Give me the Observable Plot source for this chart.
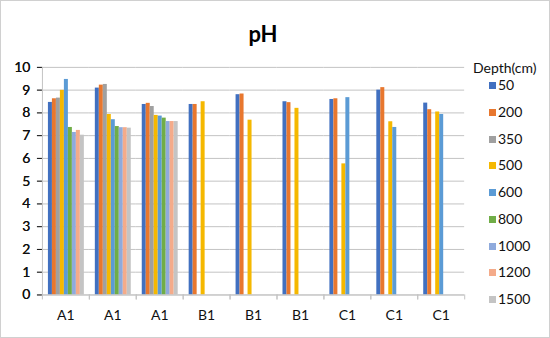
<!DOCTYPE html>
<html>
<head>
<meta charset="utf-8">
<script src="https://cdn.jsdelivr.net/npm/d3@7"></script>
<script src="https://cdn.jsdelivr.net/npm/@observablehq/plot@0.6"></script>
<style>
  html, body { margin: 0; padding: 0; background: #fff; }
  #wrap { position: relative; width: 550px; height: 338px; box-sizing: border-box; border: 1px solid #d0d0d0; overflow: hidden; font-family: Lato, "Open Sans", sans-serif; }
  #chart { position: absolute; left: -1px; top: -1px; }
  #title { position: absolute; left: 0; width: 524px; top: 19px; text-align: center; font-weight: bold; font-size: 22px; color: #000; }
  #legend { position: absolute; left: 472px; top: 0; font-size: 14px; color: #111; }
  #legend .hd { position: absolute; left: 0; top: 59px; height: 16px; line-height: 16px; white-space: nowrap; }
  #legend .it { position: absolute; left: 0; height: 16px; line-height: 16px; padding-left: 25px; white-space: nowrap; }
  #legend .sw { position: absolute; left: 16px; top: 5px; width: 7px; height: 7px; }
</style>
</head>
<body>
<div id="wrap">
  <div id="chart"></div>
  <div id="title">pH</div>
  <div id="legend"></div>
</div>
<script>
const groups = ["A1", "A1", "A1", "B1", "B1", "B1", "C1", "C1", "C1"];
const depths = ["50", "200", "350", "500", "600", "800", "1000", "1200", "1500"];
const colors = ["#4170C0", "#E8772E", "#A0A0A0", "#F5B800", "#5B9BD5", "#70AD47", "#8FAADC", "#F4AB8A", "#C4C4C4"];
const yTicks = [0, 1, 2, 3, 4, 5, 6, 7, 8, 9, 10];

const d50   = [8.46, 9.09, 8.37, 8.37, 8.80, 8.49, 8.59, 9.00, 8.43];
const d200  = [8.62, 9.22, 8.42, 8.37, 8.83, 8.45, 8.62, 9.11, 8.14];
const d350  = [8.65, 9.25, 8.28, null, null, null, null, null, null];
const d500  = [8.99, 7.93, 7.89, 8.49, 7.68, 8.20, 5.76, 7.61, 8.04];
const d600  = [9.47, 7.70, 7.86, null, null, null, 8.67, 7.36, 7.93];
const d800  = [7.36, 7.40, 7.77, null, null, null, null, null, null];
const d1000 = [7.14, 7.35, 7.62, null, null, null, null, null, null];
const d1200 = [7.23, 7.35, 7.62, null, null, null, null, null, null];
const d1500 = [7.02, 7.33, 7.62, null, null, null, null, null, null];

const series = [d50, d200, d350, d500, d600, d800, d1000, d1200, d1500];
const table = [];
groups.forEach((label, g) => {
  depths.forEach((depth, i) => {
    const v = series[i][g];
    if (v != null) table.push({g, label, depth, value: v});
  });
});

const W = 550, H = 338;
const mL = 41, mR = 85, mT = 67, mB = 43;
const bw = (W - mL - mR) / groups.length;
const gridColor = "#c3c3c3";

const chart = Plot.plot({
  width: W, height: H,
  marginLeft: mL, marginRight: mR, marginTop: mT, marginBottom: mB,
  style: {fontFamily: "Lato, 'Open Sans', sans-serif", fontSize: "14px", color: "#111", background: "transparent"},
  fx: {domain: d3.range(groups.length), padding: 0, label: null, axis: null},
  x: {domain: depths, paddingInner: 0, paddingOuter: 0.6, axis: null},
  y: {domain: [0, 10], axis: null},
  color: {domain: depths, range: colors},
  marks: [
    Plot.gridY(yTicks, {stroke: gridColor, strokeOpacity: 1}),
    Plot.frame({anchor: "left", fx: 0, stroke: gridColor}),
    Plot.axisY(yTicks, {anchor: "left", tickSize: 5, tickPadding: 7, label: null, stroke: gridColor}),
    Plot.axisY(yTicks, {anchor: "left", tickSize: 5, tickPadding: 7, label: null, fill: "#111"}),
    Plot.barY(table, {fx: "g", x: "depth", y: "value", fill: "depth"}),
    Plot.ruleY([0], {stroke: gridColor}),
    Plot.axisFx({anchor: "bottom", tickSize: 0, tickPadding: 15, tickFormat: i => groups[i], label: null}),
    Plot.axisFx({anchor: "bottom", tickSize: 5, text: null, dx: -bw / 2, stroke: gridColor}),
    Plot.axisFx([groups.length - 1], {anchor: "bottom", tickSize: 5, text: null, dx: bw / 2, stroke: gridColor})
  ]
});
document.getElementById("chart").appendChild(chart);

const legend = document.getElementById("legend");
const hd = document.createElement("div");
hd.className = "hd";
hd.textContent = "Depth(cm)";
legend.appendChild(hd);
depths.forEach((d, i) => {
  const it = document.createElement("div");
  it.className = "it";
  it.style.top = (76 + i * 26.75) + "px";
  const sw = document.createElement("span");
  sw.className = "sw";
  sw.style.background = colors[i];
  it.appendChild(sw);
  it.appendChild(document.createTextNode(d));
  legend.appendChild(it);
});
</script>
</body>
</html>
